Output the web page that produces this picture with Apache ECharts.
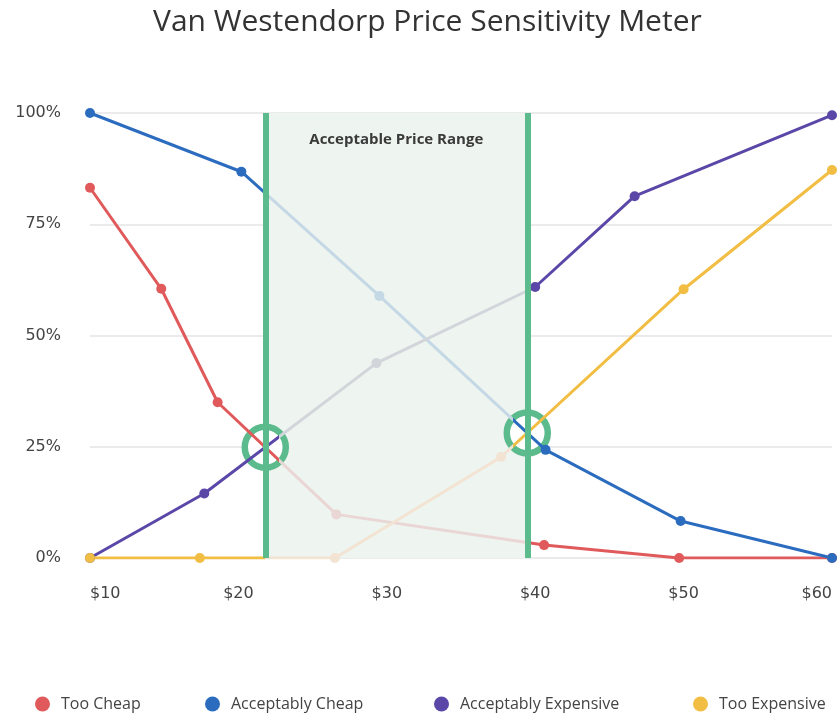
<!DOCTYPE html>
<html>
<head>
<meta charset="utf-8">
<title>Van Westendorp Price Sensitivity Meter</title>
<script src="https://cdn.jsdelivr.net/npm/echarts@6/dist/echarts.min.js"></script>
<style>
  html, body { margin: 0; padding: 0; background: #ffffff; }
  #chart { width: 839px; height: 715px; }
</style>
</head>
<body>
<div id="chart"></div>
<script>
// Survey curves: price points ($) and share of respondents (%)
const tooCheapPrice = [10, 14.8, 18.6, 26.6, 40.6, 49.7, 60];
const tooCheapPct   = [83.2, 60.5, 35.0, 9.8, 2.9, 0, 0];

const acceptCheapPrice = [10, 20.2, 29.5, 40.7, 49.8, 60];
const acceptCheapPct   = [100, 86.8, 58.9, 24.3, 8.3, 0];

const acceptExpPrice = [10, 17.7, 29.3, 40.0, 46.7, 60];
const acceptExpPct   = [0, 14.5, 43.8, 60.9, 81.3, 99.5];

const tooExpPrice = [10, 17.4, 26.5, 37.7, 50.0, 60];
const tooExpPct   = [0, 0, 0, 22.7, 60.4, 87.2];

const seriesNames = ['Too Cheap', 'Acceptably Cheap', 'Acceptably Expensive', 'Too Expensive'];
const priceTicks = [10, 20, 30, 40, 50, 60];
const pctTicks = [0, 25, 50, 75, 100];
const rangeLabel = 'Acceptable Price Range';

// Styling
const fullColors  = ['#e05a5b', '#2b6cbf', '#5b47a8', '#f1bd43'];
const fadedColors = ['#e9d6d5', '#c5d8e5', '#d2d5da', '#f3e3d2'];
const green = '#5cbb8d';
const rangeFill = '#eef4f0';
const ringPad = 0.95; // $ units: part of a curve kept bright inside a ring

// value of a piecewise-linear curve at price x
function valueAt(xs, ys, x) {
  for (let i = 0; i < xs.length - 1; i++) {
    if (x >= xs[i] && x <= xs[i + 1]) {
      const t = (x - xs[i]) / (xs[i + 1] - xs[i]);
      return ys[i] + t * (ys[i + 1] - ys[i]);
    }
  }
  return ys[ys.length - 1];
}

// first crossing of two curves (x, y)
function crossing(xa, ya, xb, yb) {
  const xs = Array.from(new Set(xa.concat(xb))).sort((a, b) => a - b);
  let prevX = xs[0];
  let prevD = valueAt(xa, ya, prevX) - valueAt(xb, yb, prevX);
  for (let i = 1; i < xs.length; i++) {
    const x = xs[i];
    const d = valueAt(xa, ya, x) - valueAt(xb, yb, x);
    if (prevD === 0) return [prevX, valueAt(xa, ya, prevX)];
    if (prevD * d < 0) {
      const cx = prevX + (x - prevX) * prevD / (prevD - d);
      return [cx, valueAt(xa, ya, cx)];
    }
    prevX = x; prevD = d;
  }
  return null;
}

// Points of marginal cheapness / expensiveness bound the acceptable range
const lowPoint  = crossing(tooCheapPrice, tooCheapPct, acceptExpPrice, acceptExpPct);
const highPoint = crossing(acceptCheapPrice, acceptCheapPct, tooExpPrice, tooExpPct);
const lo = lowPoint[0];
const hi = highPoint[0];

const curves = [
  [tooCheapPrice, tooCheapPct],
  [acceptCheapPrice, acceptCheapPct],
  [acceptExpPrice, acceptExpPct],
  [tooExpPrice, tooExpPct]
];

// the curves passing through each ring stay bright inside it
const fadeStart = [lo + ringPad, lo, lo + ringPad, lo];
const fadeEnd   = [hi, hi - ringPad, hi, hi - ringPad];

const curveSeries = curves.map((c, i) => ({
  name: seriesNames[i],
  type: 'line',
  data: c[0].map((p, k) => [p, c[1][k]]),
  symbol: 'circle',
  symbolSize: 10,
  showSymbol: true,
  z: 4,
  lineStyle: { width: 3 },
  itemStyle: { color: fullColors[i] },
  emphasis: { disabled: true },
  animation: false
}));

const visualMaps = curves.map((c, i) => ({
  type: 'piecewise',
  show: false,
  dimension: 0,
  seriesIndex: i,
  pieces: [
    { lt: fadeStart[i], color: fullColors[i] },
    { gte: fadeStart[i], lt: fadeEnd[i], color: fadedColors[i] },
    { gte: fadeEnd[i], color: fullColors[i] }
  ]
}));

const legendLefts = [30, 200, 429, 688];
const legends = seriesNames.map((n, i) => ({
  data: [n],
  left: legendLefts[i],
  top: 691,
  icon: 'circle',
  itemWidth: 15,
  itemHeight: 15,
  selectedMode: false,
  textStyle: {
    fontFamily: 'Open Sans',
    fontSize: 16,
    color: '#444444',
    padding: [0, 0, 0, 6]
  }
}));

const chart = echarts.init(document.getElementById('chart'), null, { renderer: 'canvas' });

chart.setOption({
  animation: false,
  backgroundColor: '#ffffff',
  title: {
    text: 'Van Westendorp Price Sensitivity Meter',
    left: 148,
    top: 2,
    textStyle: {
      fontFamily: 'Open Sans',
      fontWeight: 'normal',
      fontSize: 30,
      color: '#333333'
    }
  },
  legend: legends,
  grid: { left: 90, right: 7, top: 113, bottom: 157, containLabel: false },
  xAxis: {
    type: 'value',
    min: priceTicks[0],
    max: priceTicks[priceTicks.length - 1],
    interval: priceTicks[1] - priceTicks[0],
    axisLine: { show: false },
    axisTick: { show: false },
    splitLine: { show: false },
    axisLabel: {
      formatter: v => '$' + v,
      margin: 28,
      fontFamily: 'DejaVu Sans',
      fontSize: 16,
      color: '#444444',
      alignMinLabel: 'left',
      alignMaxLabel: 'right'
    }
  },
  yAxis: {
    type: 'value',
    min: pctTicks[0],
    max: pctTicks[pctTicks.length - 1],
    interval: pctTicks[1] - pctTicks[0],
    axisLine: { show: false },
    axisTick: { show: false },
    splitLine: { show: true, lineStyle: { color: '#e4e4e4', width: 1.5 } },
    axisLabel: {
      formatter: v => v + '%',
      margin: 29,
      fontFamily: 'DejaVu Sans',
      fontSize: 16,
      color: '#444444',
      padding: [0, 0, 4, 0]
    }
  },
  visualMap: visualMaps,
  series: curveSeries.concat([
    {
      // shaded acceptable range
      type: 'line',
      data: [],
      z: 1,
      silent: true,
      markArea: {
        silent: true,
        itemStyle: { color: rangeFill },
        label: {
          show: true,
          position: 'insideTop',
          distance: 19,
          fontFamily: 'Open Sans',
          fontWeight: 'bold',
          fontSize: 15,
          color: '#3a3a3a'
        },
        data: [[{ name: rangeLabel, xAxis: lo }, { xAxis: hi }]]
      }
    },
    {
      // range bounds
      type: 'line',
      data: [],
      z: 2,
      silent: true,
      markLine: {
        silent: true,
        symbol: ['none', 'none'],
        label: { show: false },
        lineStyle: { color: green, width: 6, type: 'solid' },
        data: [{ xAxis: lo }, { xAxis: hi }]
      }
    },
    {
      // rings at the two crossings
      type: 'scatter',
      data: [lowPoint, highPoint],
      symbol: 'circle',
      symbolSize: 41,
      z: 3,
      silent: true,
      itemStyle: { color: '#ffffff', borderColor: green, borderWidth: 6.5, opacity: 1 }
    }
  ])
});
</script>
</body>
</html>
